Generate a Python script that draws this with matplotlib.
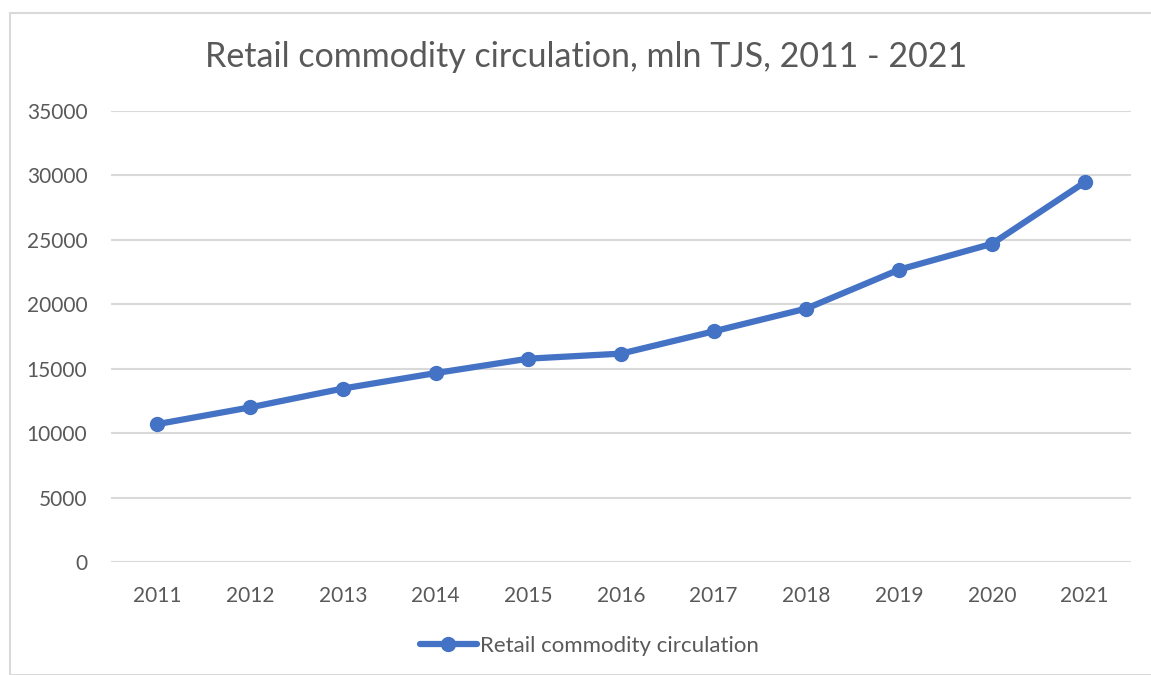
import matplotlib.pyplot as plt
from matplotlib.patches import Rectangle

# Data
years = ['2011', '2012', '2013', '2014', '2015', '2016',
         '2017', '2018', '2019', '2020', '2021']
retail = [10700, 12000, 13460, 14660, 15780, 16170,
          17900, 19670, 22690, 24690, 29460]
y_ticks = [0, 5000, 10000, 15000, 20000, 25000, 30000, 35000]

LINE_COLOR = '#4472C4'
TEXT_COLOR = '#595959'
GRID_COLOR = '#D9D9D9'

plt.rcParams['font.family'] = ['Lato', 'DejaVu Sans']

W, H = 1151, 675
fig = plt.figure(figsize=(W / 100, H / 100), dpi=100)

# outer chart border
fig.patches.append(Rectangle((10 / W, 0), 1.2, (H - 13) / H, transform=fig.transFigure,
                             fill=False, edgecolor=GRID_COLOR, linewidth=1.5))

ax = fig.add_axes([111 / W, (H - 562) / H, (1131 - 111) / W, (562 - 111) / H])

x = list(range(len(years)))
ax.plot(x, retail, color=LINE_COLOR, linewidth=4.5, marker='o', markersize=10,
        solid_capstyle='round', label='Retail commodity circulation', zorder=3)

ax.set_xlim(-0.5, len(years) - 0.5)
ax.set_ylim(0, 35000)
ax.set_yticks(y_ticks)
ax.set_yticklabels([str(v) for v in y_ticks])
ax.set_xticks(x)
ax.set_xticklabels(years)

ax.grid(axis='y', color=GRID_COLOR, linewidth=1.5)
ax.set_axisbelow(True)
for s in ax.spines.values():
    s.set_visible(False)
ax.tick_params(axis='both', length=0, labelsize=15, colors=TEXT_COLOR)
ax.tick_params(axis='y', pad=17)
ax.tick_params(axis='x', pad=17)

fig.text(586 / W, (H - 57) / H, 'Retail commodity circulation, mln TJS, 2011 - 2021',
         ha='center', va='center', fontsize=24.5, color=TEXT_COLOR)

leg = ax.legend(loc='center', bbox_to_anchor=(589 / W, (H - 646) / H),
                bbox_transform=fig.transFigure, frameon=False, fontsize=16,
                handlelength=2.6, handletextpad=0.1)
for t in leg.get_texts():
    t.set_color(TEXT_COLOR)

fig.savefig('out.png', dpi=100)
